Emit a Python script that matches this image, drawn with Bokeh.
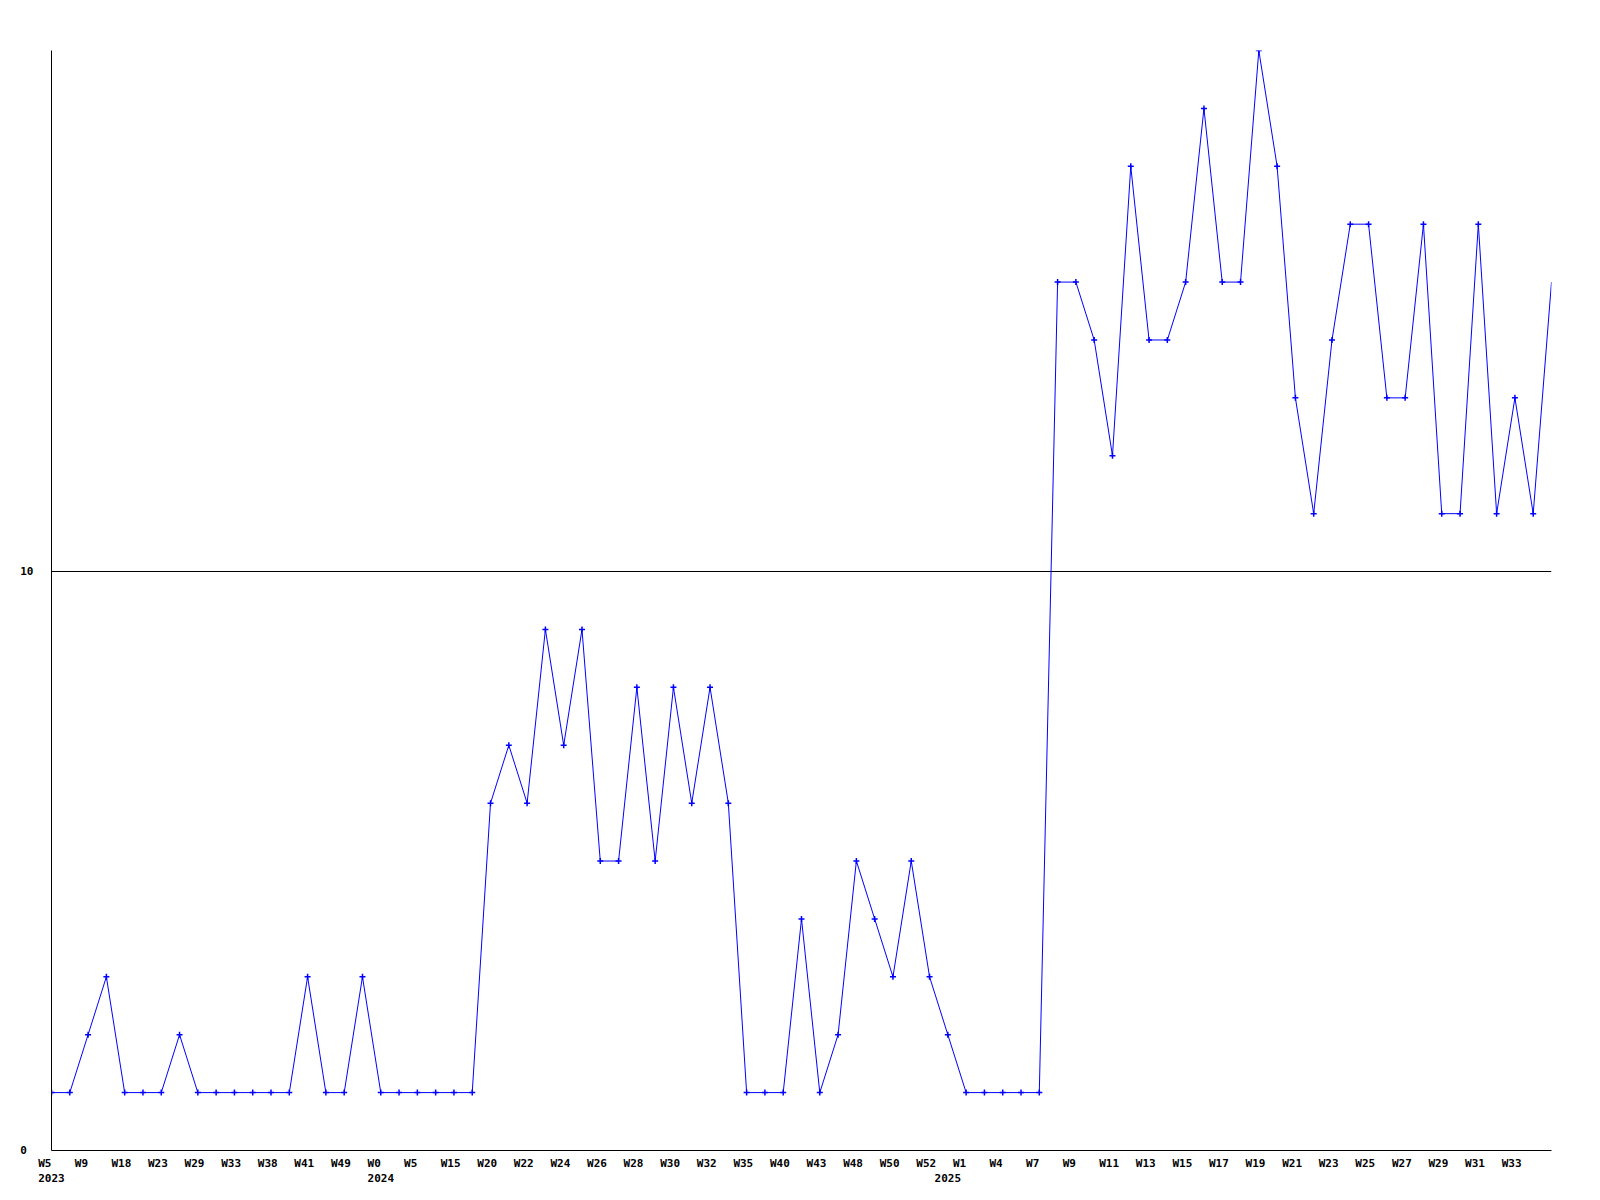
from bokeh.plotting import figure
from bokeh.models import Range1d, FixedTicker, LinearAxis
from bokeh.embed import file_html
from bokeh.resources import INLINE

# weekly counts (one point per reported week)
values = [1, 1, 2, 3, 1, 1, 1, 2, 1, 1, 1, 1, 1, 1, 3, 1, 1, 3, 1, 1,
          1, 1, 1, 1, 6, 7, 6, 9, 7, 9, 5, 5, 8, 5, 8, 6, 8, 6, 1, 1,
          1, 4, 1, 2, 5, 4, 3, 5, 3, 2, 1, 1, 1, 1, 1, 15, 15, 14, 12, 17,
          14, 14, 15, 18, 15, 15, 19, 17, 13, 11, 14, 16, 16, 13, 13, 16, 11, 11, 16, 11,
          13, 11, 15]
idx = list(range(len(values)))

# tick labels on every other point
week_labels = ["W5", "W9", "W18", "W23", "W29", "W33", "W38", "W41", "W49", "W0",
               "W5", "W15", "W20", "W22", "W24", "W26", "W28", "W30", "W32", "W35",
               "W40", "W43", "W48", "W50", "W52", "W1", "W4", "W7", "W9", "W11",
               "W13", "W15", "W17", "W19", "W21", "W23", "W25", "W27", "W29", "W31", "W33"]
week_label_pos = [2 * k for k in range(len(week_labels))]
year_labels = ["2023", "2024", "2025"]
year_label_pos = [0, 18, 49]
y_ticks = [0, 10]
y_tick_labels = ["0", "10"]

FONT = "DejaVu Sans Mono"
NB = "\u00a0"
n = len(values) - 1

p = figure(width=1592, height=1192, output_backend="svg", toolbar_location=None,
           x_range=Range1d(0, n), y_range=Range1d(0, 19),
           min_border_left=51, min_border_right=41, min_border_top=50, min_border_bottom=42)
p.outline_line_color = None
p.background_fill_color = "white"
p.border_fill_color = "white"

def style(ax, standoff, line=True):
    ax.major_tick_in = 0
    ax.major_tick_out = 0
    ax.minor_tick_line_color = None
    ax.axis_line_color = "black" if line else None
    ax.major_label_text_font = FONT
    ax.major_label_text_font_style = "bold"
    ax.major_label_text_font_size = "11px"
    ax.major_label_text_color = "black"
    ax.major_label_standoff = standoff

# x labels are left-aligned just before each point: pad to a common width
xa = p.xaxis[0]
xa.ticker = FixedTicker(ticks=week_label_pos)
xa.major_label_overrides = {t: l.ljust(4, NB) for t, l in zip(week_label_pos, week_labels)}
style(xa, 6)

ya_years = LinearAxis(ticker=FixedTicker(ticks=year_label_pos),
                      major_label_overrides={t: l for t, l in zip(year_label_pos, year_labels)})
style(ya_years, 1, line=False)
p.add_layout(ya_years, "below")

ya = p.yaxis[0]
ya.ticker = FixedTicker(ticks=y_ticks)
ya.major_label_overrides = {t: l.ljust(2, NB) for t, l in zip(y_ticks, y_tick_labels)}
style(ya, 18)

p.xgrid.visible = False
p.ygrid.ticker = FixedTicker(ticks=y_ticks)
p.ygrid.grid_line_color = "black"
p.ygrid.grid_line_width = 1

p.line(idx, values, line_color="#0000ff", line_width=1)
p.scatter(idx[:-1], values[:-1], marker="cross", size=6, line_color="#0000ff", line_width=1.5)

open("out.html", "w").write(file_html(p, INLINE))
